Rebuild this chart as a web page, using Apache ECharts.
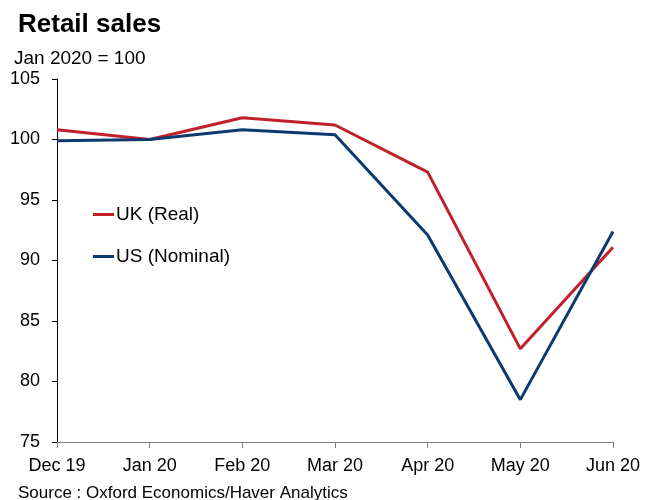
<!DOCTYPE html>
<html>
<head>
<meta charset="utf-8">
<script src="https://cdn.jsdelivr.net/npm/echarts@6/dist/echarts.min.js"></script>
<style>
html,body{margin:0;padding:0;background:#fff}
#main{width:646px;height:500px}
</style>
</head>
<body>
<div id="main"></div>
<script>
var months = ['Dec 19','Jan 20','Feb 20','Mar 20','Apr 20','May 20','Jun 20']
var ukReal = [100.8,100.0,101.8,101.2,97.3,82.7,91.1]
var usNominal = [99.9,100.0,100.8,100.4,92.1,78.5,92.4]
var yTicks = [75,105,5]

var myChart = echarts.init(document.getElementById('main'))
var font = 'Liberation Sans, Arial, sans-serif'
option = {
  backgroundColor:'#fff',
  animation:false,
  title:[
    {text:'Retail sales',left:13,top:7,textStyle:{fontFamily:font,fontSize:26,fontWeight:'bold',color:'#000'}},
    {text:'Jan 2020 = 100',left:9,top:44,textStyle:{fontFamily:font,fontSize:19,fontWeight:'normal',color:'#000'}},
    {text:'Source : Oxford Economics/Haver Analytics',left:13,top:480,textStyle:{fontFamily:font,fontSize:17,fontWeight:'normal',color:'#000'}}
  ],
  legend:{
    orient:'vertical',left:88,top:200,itemGap:23,itemWidth:21,itemHeight:3,icon:'rect',
    textStyle:{fontFamily:font,fontSize:19,color:'#000',padding:[0,0,0,-3]},
    data:['UK (Real)','US (Nominal)']
  },
  grid:{left:57,right:33,top:79,bottom:58,containLabel:false},
  xAxis:{
    type:'category',boundaryGap:false,data:months,
    axisLine:{lineStyle:{color:'#808080',width:1}},
    axisTick:{show:true,length:6,inside:false,lineStyle:{color:'#808080'}},
    axisLabel:{fontFamily:font,fontSize:18,color:'#000',margin:15,interval:0},
    splitLine:{show:false}
  },
  yAxis:{
    type:'value',min:yTicks[0],max:yTicks[1],interval:yTicks[2],
    axisLine:{show:true,lineStyle:{color:'#000',width:1}},
    axisTick:{show:true,length:5,lineStyle:{color:'#000'}},
    axisLabel:{fontFamily:font,fontSize:18,color:'#000',margin:17},
    splitLine:{show:false}
  },
  series:[
    {name:'UK (Real)',type:'line',data:ukReal,symbol:'none',color:'#c0202a',lineStyle:{width:3,color:'#c0202a'}},
    {name:'US (Nominal)',type:'line',data:usNominal,symbol:'none',color:'#0d3a6e',lineStyle:{width:3,color:'#0d3a6e'}}
  ]
}
myChart.setOption(option)
</script>
</body>
</html>
